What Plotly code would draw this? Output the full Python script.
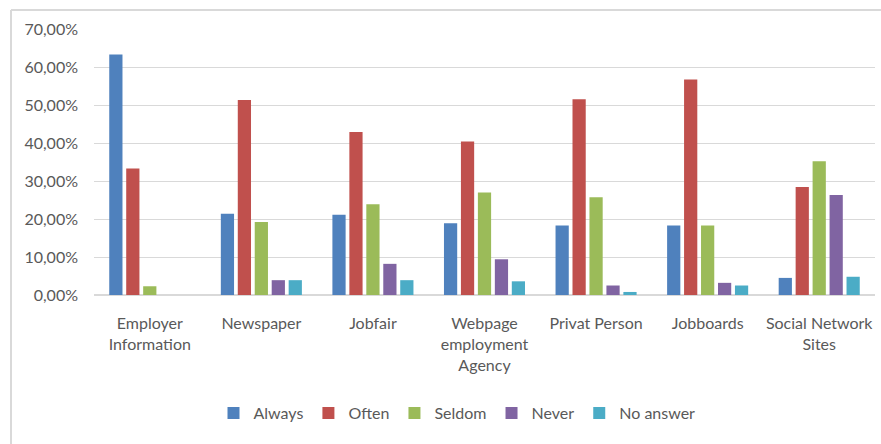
import plotly.graph_objects as go

categories = ["Employer<br>Information", "Newspaper", "Jobfair",
              "Webpage<br>employment<br>Agency", "Privat Person", "Jobboards",
              "Social Network<br>Sites"]
series_names = ["Always", "Often", "Seldom", "Never", "No answer"]
always = [0.633, 0.214, 0.211, 0.189, 0.183, 0.183, 0.045]
often = [0.333, 0.513, 0.429, 0.404, 0.515, 0.567, 0.284]
seldom = [0.023, 0.192, 0.239, 0.270, 0.257, 0.183, 0.352]
never = [0.0, 0.039, 0.082, 0.094, 0.025, 0.032, 0.263]
no_answer = [0.0, 0.039, 0.039, 0.036, 0.008, 0.025, 0.048]
series_values = [always, often, seldom, never, no_answer]
colors = ["#4F81BD", "#C0504D", "#9BBB59", "#8064A2", "#4BACC6"]

FONT = "Lato, sans-serif"
TXT = "#595959"

fig = go.Figure()
for name, vals, c in zip(series_names, series_values, colors):
    fig.add_trace(go.Bar(
        x=categories, y=vals, name=name,
        marker=dict(color=c, line=dict(width=0)),
    ))

W, H = 881, 444
L, R, T, B = 94, 6, 29, 149
pw, ph = W - L - R, H - T - B

def px_x(p):
    return (p - L) / pw

def px_y(p):
    return (H - B - p) / ph

fig.update_layout(
    width=W, height=H,
    margin=dict(l=L, r=R, t=T, b=B, pad=0),
    paper_bgcolor="white", plot_bgcolor="white",
    separators=",.",
    barmode="group", bargap=0.24, bargroupgap=0.22,
    font=dict(family=FONT, size=16, color=TXT),
    showlegend=True,
    legend=dict(orientation="h", x=px_x(457), xanchor="center",
                y=px_y(413), yanchor="middle",
                font=dict(family=FONT, size=16, color=TXT),
                itemwidth=30, tracegroupgap=0, traceorder="normal",
                bgcolor="rgba(0,0,0,0)"),
    xaxis=dict(showgrid=False, showline=False, zeroline=False, ticks="",
               tickfont=dict(family=FONT, size=16, color=TXT),
               ticklabelstandoff=17, fixedrange=True),
    yaxis=dict(range=[0, 0.7], dtick=0.1, tickformat=".2%",
               showgrid=True, gridcolor="#D9D9D9", gridwidth=1.3,
               zeroline=True, zerolinecolor="#D9D9D9", zerolinewidth=2,
               showline=False, ticks="",
               tickfont=dict(family=FONT, size=16, color=TXT),
               ticklabelstandoff=15, fixedrange=True),
    shapes=[
        dict(type="line", xref="paper", yref="paper",
             x0=px_x(11), x1=px_x(900), y0=px_y(10), y1=px_y(10),
             line=dict(color="#D9D9D9", width=2)),
        dict(type="line", xref="paper", yref="paper",
             x0=px_x(11), x1=px_x(11), y0=px_y(10), y1=px_y(460),
             line=dict(color="#D9D9D9", width=2)),
    ],
)

fig.write_html("out.html")
